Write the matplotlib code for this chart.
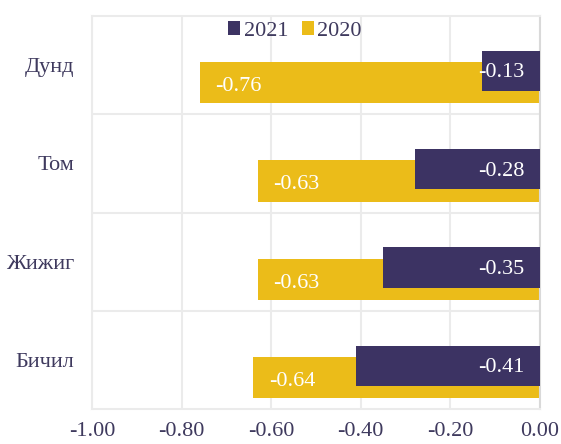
import matplotlib.pyplot as plt
import numpy as np

categories = ["Дунд", "Том", "Жижиг", "Бичил"]
vals_2021 = [-0.13, -0.28, -0.35, -0.41]
vals_2020 = [-0.76, -0.63, -0.63, -0.64]
ticks = [-1.0, -0.8, -0.6, -0.4, -0.2, 0.0]

purple = "#3C3363"
gold = "#EBBC19"
txt = "#3F3A5E"

plt.rcParams["font.family"] = ["Liberation Serif", "DejaVu Serif"]

fig = plt.figure(figsize=(5.61, 4.44), dpi=100)
ax = fig.add_axes([92 / 561, 1 - 409 / 444, 448 / 561, 393 / 444])

y = np.arange(len(categories))
b20 = ax.barh(y + 0.18, vals_2020, height=0.42, color=gold, label="2020", zorder=2)
b21 = ax.barh(y + 0.06, vals_2021, height=0.41, color=purple, label="2021", zorder=3)

for i, v in enumerate(vals_2020):
    ax.text(v + 0.035, y[i] + 0.22, f"{v:.2f}", color="white", fontsize=16,
            ha="left", va="center", zorder=4)
for i, v in enumerate(vals_2021):
    ax.text(-0.035, y[i] + 0.08, f"{v:.2f}", color="white", fontsize=16,
            ha="right", va="center", zorder=4)

ax.set_xlim(-1.0, 0.0)
ax.set_ylim(3.5, -0.5)
ax.set_xticks(ticks)
ax.set_xticklabels([f"{t:.2f}" for t in ticks])
ax.set_yticks(y)
ax.set_yticklabels(categories)
ax.tick_params(axis="both", length=0, labelsize=16, labelcolor=txt)
ax.tick_params(axis="y", pad=13)
ax.tick_params(axis="x", pad=9)

for t in ticks:
    ax.axvline(t, color="#EBEBEB", lw=1.5, zorder=1)
for s in [0.5, 1.5, 2.5]:
    ax.axhline(s, color="#EBEBEB", lw=1.5, zorder=1)

for side in ["top", "left", "bottom"]:
    ax.spines[side].set_color("#EBEBEB")
    ax.spines[side].set_linewidth(1.5)
ax.spines["right"].set_color("#D9D9D9")
ax.spines["right"].set_linewidth(1.5)

leg = ax.legend(handles=[b21, b20], loc="center", bbox_to_anchor=(0.453, 0.962),
                ncol=2, frameon=False, fontsize=16, handlelength=0.55, handleheight=0.55,
                handletextpad=0.15, columnspacing=0.6, borderpad=0)
for t in leg.get_texts():
    t.set_color(txt)

fig.savefig("out.png", dpi=100)
